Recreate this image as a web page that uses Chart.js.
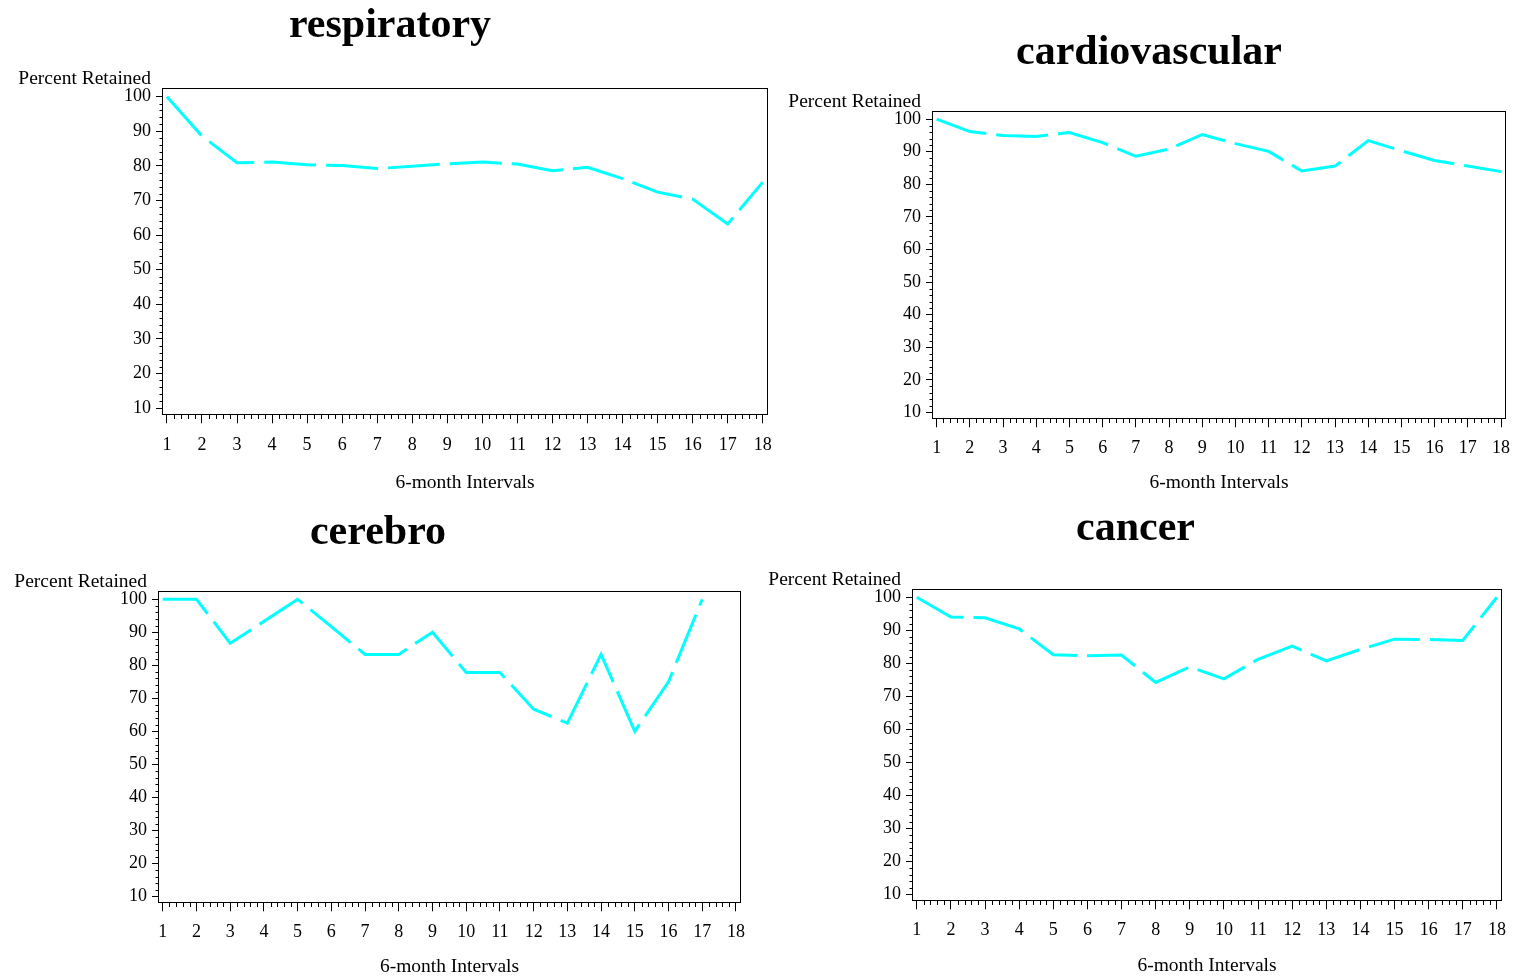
<!DOCTYPE html>
<html>
<head>
<meta charset="utf-8">
<script src="https://cdn.jsdelivr.net/npm/chart.js@4.4.1/dist/chart.umd.min.js"></script>
<style>
  html, body { margin: 0; padding: 0; background: #ffffff; }
  body { width: 1515px; height: 977px; position: relative; overflow: hidden; }
  canvas { position: absolute; }
</style>
</head>
<body>
<canvas id="c-respiratory"></canvas>
<canvas id="c-cardiovascular"></canvas>
<canvas id="c-cerebro"></canvas>
<canvas id="c-cancer"></canvas>
<script>
// 6-month follow-up intervals and axis tick values
const intervals = [1, 2, 3, 4, 5, 6, 7, 8, 9, 10, 11, 12, 13, 14, 15, 16, 17, 18];
const xTickValues = [1, 2, 3, 4, 5, 6, 7, 8, 9, 10, 11, 12, 13, 14, 15, 16, 17, 18];
const yTickValues = [10, 20, 30, 40, 50, 60, 70, 80, 90, 100];

// Percent retained per interval, by diagnosis group
const respiratory    = [100, 88.6, 80.9, 81.1, 80.3, 80.1, 79.2, 79.9, 80.6, 81.1, 80.5, 78.6, 79.6, 76.3, 72.4, 70.4, 63.2, 75.3];
const cardiovascular = [100, 96.2, 95.0, 94.7, 95.9, 92.8, 88.6, 90.8, 95.3, 92.5, 90.1, 84.1, 85.6, 93.4, 90.3, 87.3, 85.6, 83.9];
const cerebro        = [100, 100, 86.7, 93.3, 100, 91.7, 83.3, 83.3, 90.0, 77.8, 77.8, 66.7, 62.5, 83.3, 60.0, 75.0, 100];
const cancer         = [100, 94.0, 93.8, 90.4, 82.6, 82.3, 82.5, 74.2, 78.9, 75.3, 81.2, 85.2, 80.7, 84.2, 87.3, 87.2, 86.9, 100];

const yAxisLabel = 'Percent Retained';
const xAxisLabel = '6-month Intervals';

// Panel placement on the page (canvas rectangle and plot frame, in page pixels)
const panels = [
  { id: 'c-respiratory',    title: 'respiratory',    values: respiratory,
    left: 0,   top: 0,   width: 780, box: { left: 162, top: 88,  right: 768,  bottom: 415 },
    titleGap: 51, xTitleGap: 68, tickPad: 11 },
  { id: 'c-cardiovascular', title: 'cardiovascular', values: cardiovascular,
    left: 783, top: 0,   width: 732, box: { left: 932, top: 111, right: 1506, bottom: 419 },
    titleGap: 47, xTitleGap: 64, tickPad: 10 },
  { id: 'c-cerebro',        title: 'cerebro',        values: cerebro,
    left: 0,   top: 495, width: 756, box: { left: 158, top: 591, right: 741,  bottom: 903 },
    titleGap: 47, xTitleGap: 64, tickPad: 10 },
  { id: 'c-cancer',         title: 'cancer',         values: cancer,
    left: 756, top: 495, width: 759, box: { left: 912, top: 589, right: 1502, bottom: 901 },
    titleGap: 49, xTitleGap: 65, tickPad: 10 }
];

const SERIF = '"Liberation Serif", "Times New Roman", serif';
const INK = '#000000';
const LABEL_SIZE = 19.5;

// Frame around the plot area, minor ticks, panel title and the horizontal y-axis caption
const panelDecor = {
  id: 'panelDecor',
  afterDraw(chart, args, opts) {
    const { ctx, chartArea: a, scales } = chart;
    const xs = scales.x, ys = scales.y;
    ctx.save();
    ctx.strokeStyle = INK;
    ctx.lineWidth = 1;
    const L = Math.round(a.left) + 0.5, T = Math.round(a.top) + 0.5;
    const R = Math.round(a.right) - 0.5, B = Math.round(a.bottom) - 0.5;
    ctx.strokeRect(L, T, R - L, B - T);

    // minor ticks: five subdivisions per major step
    ctx.beginPath();
    const xFirst = xTickValues[0], xLast = xTickValues[xTickValues.length - 1];
    for (let i = xFirst * 5; i <= xLast * 5; i++) {
      if (i % 5 === 0) continue;
      const px = Math.round(xs.getPixelForValue(i / 5)) + 0.5;
      ctx.moveTo(px, B);
      ctx.lineTo(px, B + 4.5);
    }
    const yFirst = yTickValues[0], yLast = yTickValues[yTickValues.length - 1];
    for (let v = yFirst; v <= yLast; v += 2) {
      if (v % 10 === 0) continue;
      const py = Math.round(ys.getPixelForValue(v)) + 0.5;
      ctx.moveTo(L, py);
      ctx.lineTo(L - 3, py);
    }
    ctx.stroke();

    ctx.fillStyle = INK;
    ctx.textBaseline = 'alphabetic';
    ctx.font = LABEL_SIZE + 'px ' + SERIF;
    ctx.textAlign = 'right';
    ctx.fillText(yAxisLabel, a.left - 11, a.top - 4);

    ctx.font = 'bold 42px ' + SERIF;
    ctx.textAlign = 'center';
    ctx.fillText(opts.text, chart.width / 2, a.top - opts.gap);
    ctx.restore();
  }
};

panels.forEach(p => {
  const canvas = document.getElementById(p.id);
  const xAxisHeight = p.xTitleGap + 1 + LABEL_SIZE * 0.6;
  const height = Math.round(p.box.bottom - p.top + xAxisHeight);
  canvas.width = p.width;
  canvas.height = height;
  canvas.style.left = p.left + 'px';
  canvas.style.top = p.top + 'px';
  canvas.style.width = p.width + 'px';
  canvas.style.height = height + 'px';

  new Chart(canvas, {
    type: 'line',
    data: {
      datasets: [{
        data: p.values.map((v, i) => ({ x: intervals[i], y: v })),
        borderColor: '#00FFFF',
        borderWidth: 3,
        borderDash: [52, 10],
        borderCapStyle: 'butt',
        pointRadius: 0,
        tension: 0,
        fill: false
      }]
    },
    options: {
      responsive: false,
      animation: false,
      devicePixelRatio: 1,
      layout: {
        padding: {
          left: 0,
          top: p.box.top - p.top,
          right: p.left + p.width - p.box.right,
          bottom: 0
        }
      },
      plugins: {
        legend: { display: false },
        tooltip: { enabled: false },
        panelDecor: { text: p.title, gap: p.titleGap }
      },
      scales: {
        x: {
          type: 'linear',
          min: 0.86,
          max: 18.15,
          afterBuildTicks: s => { s.ticks = xTickValues.map(v => ({ value: v })); },
          afterFit: s => { s.height = xAxisHeight; s.paddingLeft = 0; s.paddingRight = 0; },
          ticks: {
            autoSkip: false,
            maxRotation: 0,
            padding: p.tickPad,
            color: INK,
            font: { family: SERIF, size: 18 },
            callback: v => String(v)
          },
          grid: { drawOnChartArea: false, drawTicks: true, tickLength: 8, tickColor: INK, color: INK, lineWidth: 1 },
          border: { display: false },
          title: {
            display: true,
            text: xAxisLabel,
            color: INK,
            font: { family: SERIF, size: LABEL_SIZE },
            padding: { top: 0, bottom: 1 }
          }
        },
        y: {
          type: 'linear',
          min: 7.9,
          max: 102.5,
          afterBuildTicks: s => { s.ticks = yTickValues.map(v => ({ value: v })); },
          afterFit: s => { s.width = p.box.left - p.left; s.paddingTop = 0; s.paddingBottom = 0; },
          ticks: {
            padding: 5,
            color: INK,
            font: { family: SERIF, size: 18 },
            callback: v => String(v)
          },
          grid: { drawOnChartArea: false, drawTicks: true, tickLength: 6, tickColor: INK, color: INK, lineWidth: 1 },
          border: { display: false }
        }
      }
    },
    plugins: [panelDecor]
  });
});
</script>
</body>
</html>
